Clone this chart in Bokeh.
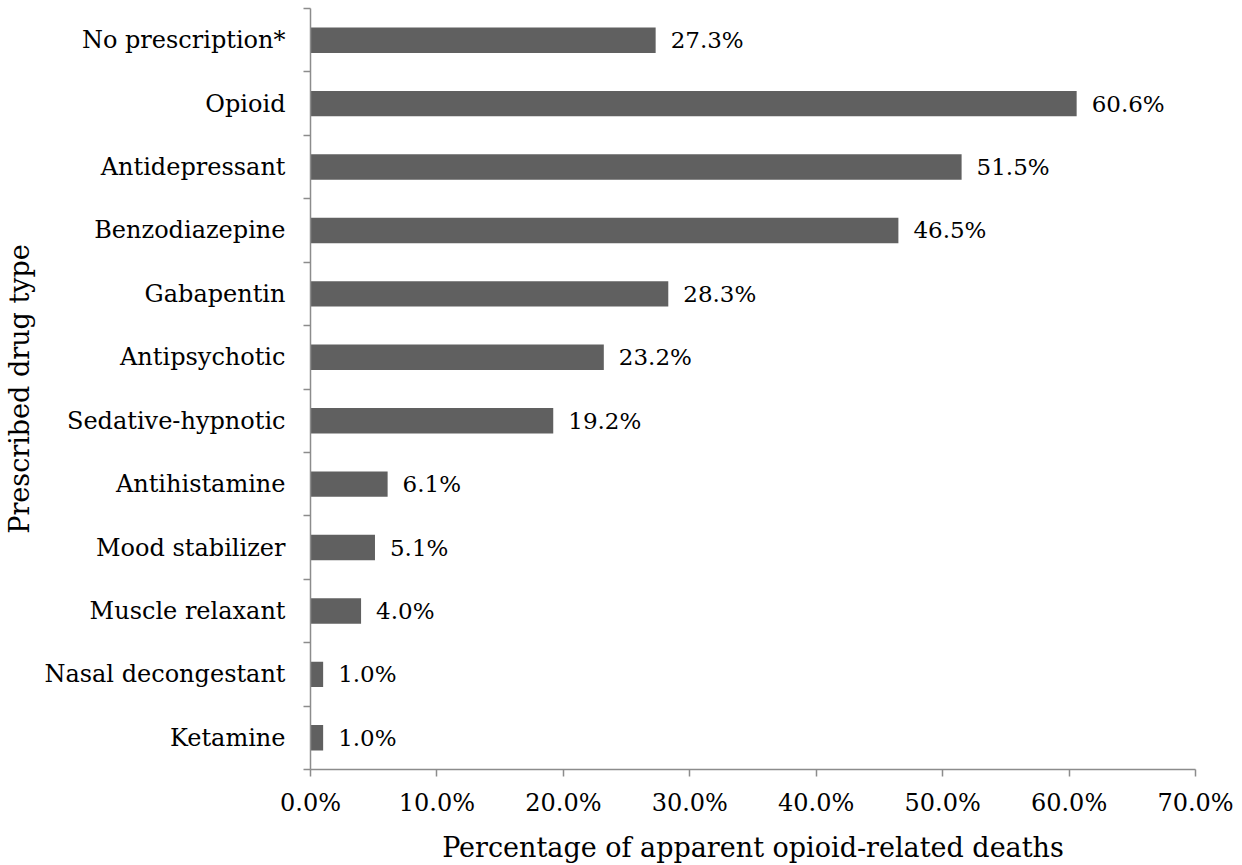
from bokeh.plotting import figure
from bokeh.models import ColumnDataSource, FixedTicker, PrintfTickFormatter, Range1d
from bokeh.core.properties import value
from bokeh.embed import file_html
from bokeh.resources import INLINE

# Prescribed drug types, listed top to bottom as shown
drug_types = [
    "No prescription*",
    "Opioid",
    "Antidepressant",
    "Benzodiazepine",
    "Gabapentin",
    "Antipsychotic",
    "Sedative-hypnotic",
    "Antihistamine",
    "Mood stabilizer",
    "Muscle relaxant",
    "Nasal decongestant",
    "Ketamine",
]
# Share of apparent opioid-related deaths (%)
pct_deaths = [27.3, 60.6, 51.5, 46.5, 28.3, 23.2, 19.2, 6.1, 5.1, 4.0, 1.0, 1.0]
x_ticks = [0, 10, 20, 30, 40, 50, 60, 70]

FONT = "DejaVu Serif"
AXIS_GREY = "#8c8c8c"
BAR_GREY = "#606060"
TEXT = "#000000"

n = len(drug_types)
# first category at the top: row position counts down from n-1
rows = [n - 1 - i for i in range(n)]
labels = [f"{v:.1f}%" for v in pct_deaths]

src = ColumnDataSource(dict(y=rows, pct=pct_deaths, label=labels))

p = figure(
    width=1242,
    height=865,
    x_range=Range1d(0, 70),
    y_range=Range1d(-0.5, n - 0.5),
    output_backend="svg",
    toolbar_location=None,
    min_border_left=310,
    min_border_right=47,
    min_border_top=8,
    min_border_bottom=93,
)
p.outline_line_color = None
p.xgrid.grid_line_color = None
p.ygrid.grid_line_color = None

p.hbar(y="y", left=0, right="pct", height=0.4, source=src,
       fill_color=BAR_GREY, line_color=None)

p.text(x="pct", y="y", text="label", source=src, x_offset=15,
       text_baseline="middle", text_align="left",
       text_font=value(FONT), text_font_size="23px", text_color=TEXT)

# x axis
p.xaxis.ticker = FixedTicker(ticks=x_ticks, minor_ticks=[])
p.xaxis.formatter = PrintfTickFormatter(format="%.1f%%")
p.xaxis.axis_label = "Percentage of apparent opioid-related deaths"

# y axis: names at row centres, tick marks on the row boundaries
p.yaxis.ticker = FixedTicker(ticks=rows, minor_ticks=[r - 0.5 for r in range(n + 1)])
p.yaxis.major_label_overrides = {r: name for r, name in zip(rows, drug_types)}
p.yaxis.axis_label = "Prescribed drug type"
p.yaxis.major_tick_out = 0
p.yaxis.major_tick_in = 0
p.yaxis.minor_tick_out = 7
p.yaxis.minor_tick_in = 0
p.yaxis.major_label_standoff = 18
p.yaxis.axis_label_standoff = 6

p.xaxis.major_tick_out = 7
p.xaxis.major_tick_in = 0
p.xaxis.minor_tick_out = 0
p.xaxis.major_label_standoff = 12
p.xaxis.axis_label_standoff = 12

for ax in (p.xaxis[0], p.yaxis[0]):
    ax.axis_line_color = AXIS_GREY
    ax.axis_line_width = 1.5
    ax.major_tick_line_color = AXIS_GREY
    ax.major_tick_line_width = 1.5
    ax.minor_tick_line_color = AXIS_GREY
    ax.minor_tick_line_width = 1.5
    ax.major_label_text_font = FONT
    ax.major_label_text_font_size = "24px"
    ax.major_label_text_color = TEXT
    ax.axis_label_text_font = FONT
    ax.axis_label_text_font_size = "27px"
    ax.axis_label_text_font_style = "normal"
    ax.axis_label_text_color = TEXT

open("out.html", "w").write(file_html(p, INLINE))
